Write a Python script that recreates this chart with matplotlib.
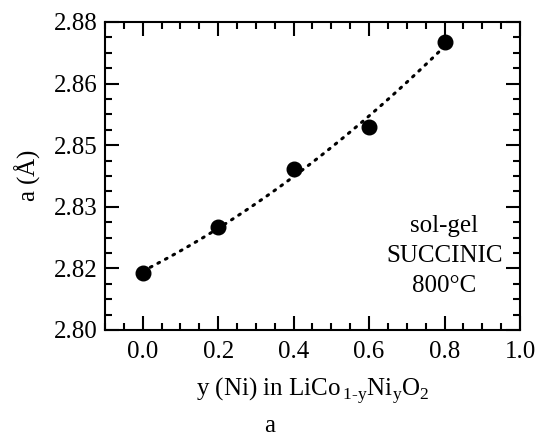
import numpy as np
import matplotlib.pyplot as plt
from matplotlib.ticker import MultipleLocator, FormatStrFormatter

plt.rcParams['font.family'] = 'Liberation Serif'
plt.rcParams['mathtext.fontset'] = 'custom'
plt.rcParams['mathtext.rm'] = 'Liberation Serif'

# Datos (parametro de red a vs contenido de Ni)
y_ni = [0.0, 0.2, 0.4, 0.6, 0.8]
a_lat = [2.8148, 2.8267, 2.8418, 2.8527, 2.8748]

fig = plt.figure(figsize=(5.4, 4.37), dpi=100)
ax = fig.add_axes([0.1944, 0.2449, 0.7686, 0.7048])

# ajuste cuadratico
coef = np.polyfit(y_ni, a_lat, 2)
xf = np.linspace(0.0, 0.8, 100)
ax.plot(xf, np.polyval(coef, xf), color='black', linewidth=2.2,
        linestyle=(0, (0.6, 2.2)), dash_capstyle='round')
ax.plot(y_ni, a_lat, 'o', color='black', markersize=10.5)

ax.set_xlim(-0.1, 1.0)
ax.set_ylim(2.80, 2.88)
ax.xaxis.set_major_locator(MultipleLocator(0.2))
ax.xaxis.set_minor_locator(MultipleLocator(0.05))
ax.yaxis.set_major_locator(MultipleLocator(0.016))
ax.yaxis.set_minor_locator(MultipleLocator(0.004))
ax.xaxis.set_major_formatter(FormatStrFormatter('%.1f'))
ax.yaxis.set_major_formatter(FormatStrFormatter('%.2f'))
ax.tick_params(which='both', direction='in', top=True, right=True,
               labelsize=18, width=1.5)
ax.tick_params(which='major', length=10)
ax.tick_params(which='minor', length=5)
ax.tick_params(axis='x', which='major', pad=8)
ax.tick_params(axis='y', which='major', pad=5)
for s in ax.spines.values():
    s.set_linewidth(1.5)

ax.set_xlabel(r'y (Ni) in LiCo$_{\,\mathrm{1\text{-}y}}$Ni$_\mathrm{y}$O$_2$', fontsize=18, labelpad=9)
ax.set_ylabel(r'a ($\mathrm{\AA}$)', fontsize=18, labelpad=9)

ax.text(0.8, 2.8192, 'sol-gel\nSUCCINIC\n800°C', ha='center', va='center',
        fontsize=18, linespacing=1.45)
fig.text(0.5, 0.025, 'a', ha='center', va='center', fontsize=18)

fig.savefig('out.png', dpi=100)
